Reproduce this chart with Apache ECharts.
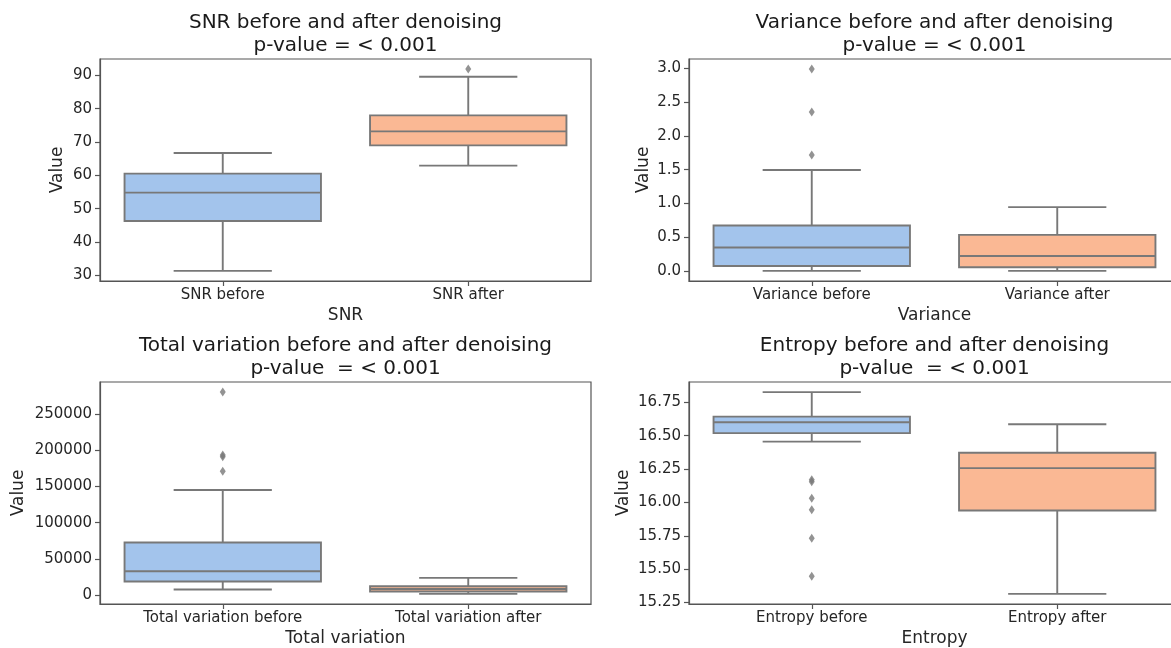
<!DOCTYPE html>
<html><head><meta charset="utf-8">
<script src="https://cdn.jsdelivr.net/npm/echarts@6/dist/echarts.min.js"></script>
<style>html,body{margin:0;padding:0;background:#fff}#c{width:1171px;height:648px}</style>
</head><body><div id="c"></div><script>
// Box statistics: [low whisker, Q1, median, Q3, high whisker]
const snrCategories = ['SNR before', 'SNR after'];
const snrBefore = [31.3, 46.3, 54.8, 60.5, 66.7];
const snrAfter = [62.9, 69.0, 73.2, 78.0, 89.6];
const snrOutliersBefore = [];
const snrOutliersAfter = [91.9];
const snrTicks = [30, 40, 50, 60, 70, 80, 90];

const varCategories = ['Variance before', 'Variance after'];
const varBefore = [0.005, 0.078, 0.351, 0.676, 1.495];
const varAfter = [0.005, 0.059, 0.226, 0.537, 0.947];
const varOutliersBefore = [2.985, 2.35, 1.717];
const varOutliersAfter = [];
const varTicks = [0.0, 0.5, 1.0, 1.5, 2.0, 2.5, 3.0];

const tvCategories = ['Total variation before', 'Total variation after'];
const tvBefore = [7800, 18900, 33100, 72700, 145200];
const tvAfter = [1800, 5100, 8600, 12400, 23900];
const tvOutliersBefore = [280300, 193500, 191000, 171000];
const tvOutliersAfter = [];
const tvTicks = [0, 50000, 100000, 150000, 200000, 250000];

const entCategories = ['Entropy before', 'Entropy after'];
const entBefore = [16.456, 16.519, 16.601, 16.643, 16.827];
const entAfter = [15.314, 15.939, 16.257, 16.372, 16.586];
const entOutliersBefore = [16.17, 16.155, 16.031, 15.944, 15.732, 15.446];
const entOutliersAfter = [];
const entTicks = [15.25, 15.50, 15.75, 16.00, 16.25, 16.50, 16.75];

const panels = [
  {title: 'SNR before and after denoising\np-value = < 0.001', xName: 'SNR', cats: snrCategories,
   boxes: [snrBefore, snrAfter], outs: [snrOutliersBefore, snrOutliersAfter], ticks: snrTicks, dec: 0,
   grid: {left: 100, top: 59, width: 491, height: 222}, nameGapY: 34},
  {title: 'Variance before and after denoising\np-value = < 0.001', xName: 'Variance', cats: varCategories,
   boxes: [varBefore, varAfter], outs: [varOutliersBefore, varOutliersAfter], ticks: varTicks, dec: 1,
   grid: {left: 689, top: 59, width: 491, height: 222}, nameGapY: 37},
  {title: 'Total variation before and after denoising\np-value  = < 0.001', xName: 'Total variation', cats: tvCategories,
   boxes: [tvBefore, tvAfter], outs: [tvOutliersBefore, tvOutliersAfter], ticks: tvTicks, dec: 0,
   grid: {left: 100, top: 382, width: 491, height: 222}, nameGapY: 73},
  {title: 'Entropy before and after denoising\np-value  = < 0.001', xName: 'Entropy', cats: entCategories,
   boxes: [entBefore, entAfter], outs: [entOutliersBefore, entOutliersAfter], ticks: entTicks, dec: 2,
   grid: {left: 689, top: 382, width: 491, height: 222}, nameGapY: 57}
];

const boxColors = ['#a3c4ec', '#fab894'];
const lineColor = '#787878';
const frameColor = '#555555';
const textColor = '#262626';
const FONT = 'DejaVu Sans';

function renderBox(params, api) {
  const c = api.value(0);
  const lo = api.coord([c, api.value(1)]);
  const q1 = api.coord([c, api.value(2)]);
  const md = api.coord([c, api.value(3)]);
  const q3 = api.coord([c, api.value(4)]);
  const hi = api.coord([c, api.value(5)]);
  const band = api.size([1, 0])[0];
  const w = band * 0.8, cw = w / 2;
  const cx = lo[0];
  const ls = {stroke: lineColor, lineWidth: 1.9};
  return {type: 'group', children: [
    {type: 'line', shape: {x1: cx, y1: lo[1], x2: cx, y2: q1[1]}, style: ls},
    {type: 'line', shape: {x1: cx, y1: q3[1], x2: cx, y2: hi[1]}, style: ls},
    {type: 'line', shape: {x1: cx - cw / 2, y1: lo[1], x2: cx + cw / 2, y2: lo[1]}, style: ls},
    {type: 'line', shape: {x1: cx - cw / 2, y1: hi[1], x2: cx + cw / 2, y2: hi[1]}, style: ls},
    {type: 'rect', shape: {x: cx - w / 2, y: q3[1], width: w, height: q1[1] - q3[1]},
     style: {fill: boxColors[c], stroke: lineColor, lineWidth: 1.9}},
    {type: 'line', shape: {x1: cx - w / 2, y1: md[1], x2: cx + w / 2, y2: md[1]}, style: ls}
  ]};
}

const option = {animation: false, backgroundColor: '#fff', title: [], grid: [], xAxis: [], yAxis: [], series: []};

panels.forEach((p, i) => {
  const allVals = [].concat(p.boxes[0], p.boxes[1], p.outs[0], p.outs[1]);
  const dMin = Math.min.apply(null, allVals), dMax = Math.max.apply(null, allVals);
  const pad = (dMax - dMin) * 0.05;
  const g = Object.assign({show: true, borderColor: frameColor, borderWidth: 1.2, backgroundColor: 'transparent',
    containLabel: false, outerBoundsMode: 'none'}, p.grid);
  option.grid.push(g);
  option.title.push({
    text: p.title, left: p.grid.left + p.grid.width / 2, top: p.grid.top - 48, textAlign: 'center', padding: 0,
    textStyle: {fontFamily: FONT, fontSize: 20, lineHeight: 23, fontWeight: 'normal', color: '#1a1a1a'}
  });
  option.xAxis.push({
    type: 'category', gridIndex: i, data: p.cats,
    axisLine: {show: true, onZero: false, lineStyle: {color: frameColor, width: 1.2}},
    axisTick: {show: true, alignWithLabel: true, length: 5, lineStyle: {color: frameColor, width: 1.2}},
    axisLabel: {fontFamily: FONT, fontSize: 15, color: textColor, margin: 7},
    splitLine: {show: false},
    name: p.xName, nameLocation: 'middle', nameGap: 26,
    nameTextStyle: {fontFamily: FONT, fontSize: 17, color: textColor}
  });
  option.yAxis.push({
    type: 'value', gridIndex: i, min: dMin - pad, max: dMax + pad, scale: true,
    axisLine: {show: true, onZero: false, lineStyle: {color: frameColor, width: 1.2}},
    axisTick: {show: true, length: 5, customValues: p.ticks, lineStyle: {color: frameColor, width: 1.2}},
    axisLabel: {fontFamily: FONT, fontSize: 15, color: textColor, margin: 8, customValues: p.ticks,
      formatter: (v) => Number(v).toFixed(p.dec)},
    splitLine: {show: false},
    name: 'Value', nameLocation: 'middle', nameGap: p.nameGapY, nameRotate: 90,
    nameTextStyle: {fontFamily: FONT, fontSize: 17, color: textColor}
  });
  option.series.push({
    type: 'custom', xAxisIndex: i, yAxisIndex: i, renderItem: renderBox, clip: false,
    encode: {x: 0, y: [1, 2, 3, 4, 5]},
    data: p.boxes.map((b, k) => [k].concat(b))
  });
  const outData = [];
  p.outs.forEach((arr, k) => arr.forEach(v => outData.push([k, v])));
  option.series.push({
    type: 'scatter', xAxisIndex: i, yAxisIndex: i, symbol: 'diamond', symbolSize: [6, 9],
    itemStyle: {color: lineColor}, data: outData, z: 5
  });
});

const chart = echarts.init(document.getElementById('c'), null, {renderer: 'canvas'});
chart.setOption(option);
</script></body></html>
